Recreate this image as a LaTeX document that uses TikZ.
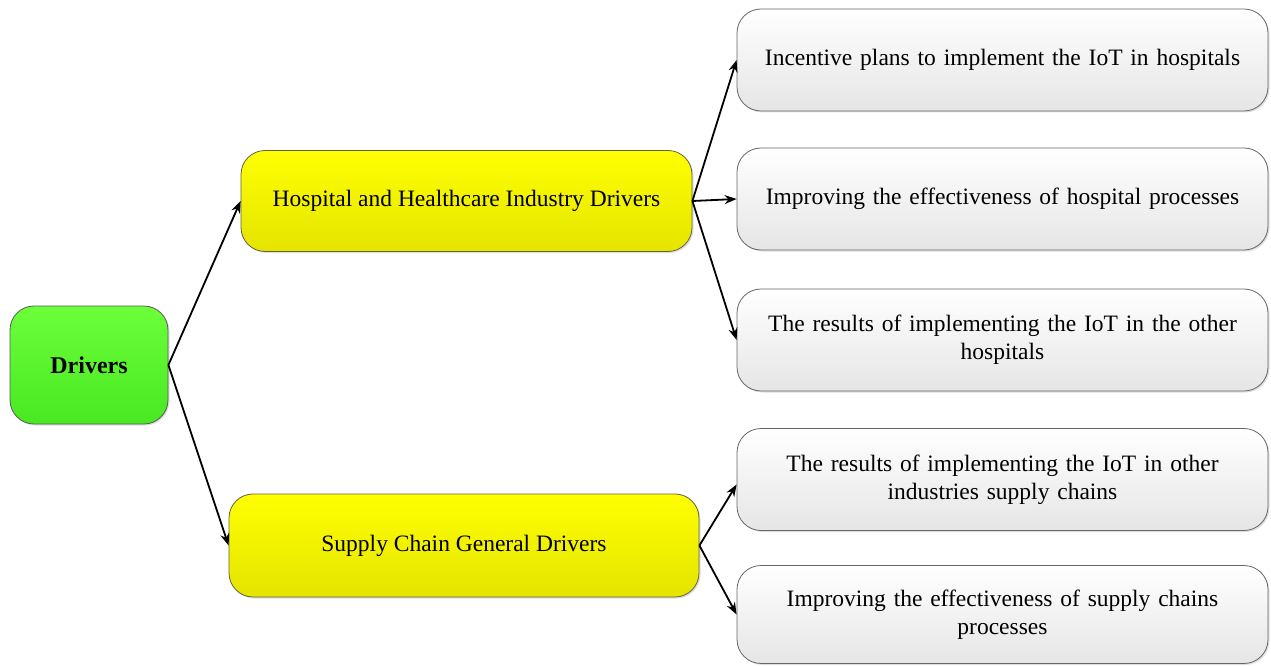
\documentclass[tikz,border=0pt]{standalone}
\usepackage{fontspec}
\setmainfont{Liberation Serif}
\usetikzlibrary{arrows.meta,shadows}
\definecolor{grtop}{HTML}{6CFF3A}
\definecolor{grbot}{HTML}{48E822}
\definecolor{yltop}{HTML}{FFFF00}
\definecolor{ylbot}{HTML}{E4E400}
\begin{document}
\begin{tikzpicture}[x=1pt,y=-1pt,
  base/.style={rounded corners=24pt, font=\fontsize{23.5}{28}\selectfont, align=center, line width=0.8pt, drop shadow={shadow xshift=1.5pt,shadow yshift=-1.5pt,opacity=0.25}},
  rootbox/.style={base, draw=black!65, top color=grtop, bottom color=grbot, minimum width=158pt, minimum height=118pt, text width=140pt, font=\fontsize{24}{28}\selectfont\bfseries},
  midbox/.style={base, draw=black!70!yellow, top color=yltop, bottom color=ylbot, minimum height=101pt},
  leafbox/.style={base, draw=black!60, top color=white, bottom color=black!10, minimum width=531pt, minimum height=102pt, text width=510pt},
  conn/.style={-{Stealth[length=12pt,width=9pt]}, line width=1.8pt, black}
]
\useasboundingbox (0,0) rectangle (1271,666);
\node[rootbox] (drv) at (89,365) {Drivers};
\node[midbox, minimum width=451pt] (hosp) at (466.5,201) {Hospital and Healthcare Industry Drivers};
\node[midbox, minimum width=470pt, minimum height=103pt] (sup) at (464,545.5) {Supply Chain General Drivers};
\node[leafbox] (l1) at (1002.5,60) {Incentive plans to implement the IoT in hospitals};
\node[leafbox] (l2) at (1002.5,199) {Improving the effectiveness of hospital processes};
\node[leafbox] (l3) at (1002.5,340) {The results of implementing the IoT in the other\\hospitals};
\node[leafbox] (l4) at (1002.5,479.5) {The results of implementing the IoT in other\\industries supply chains};
\node[leafbox, minimum height=98pt] (l5) at (1002.5,614.5) {Improving the effectiveness of supply chains\\processes};
\draw[conn] (drv.east) -- (hosp.west);
\draw[conn] (drv.east) -- (sup.west);
\draw[conn] (hosp.east) -- (l1.west);
\draw[conn] (hosp.east) -- (l2.west);
\draw[conn] (hosp.east) -- (l3.west);
\draw[conn] (sup.east) -- ([yshift=-5pt]l4.west);
\draw[conn] (sup.east) -- (l5.west);
\end{tikzpicture}
\end{document}
